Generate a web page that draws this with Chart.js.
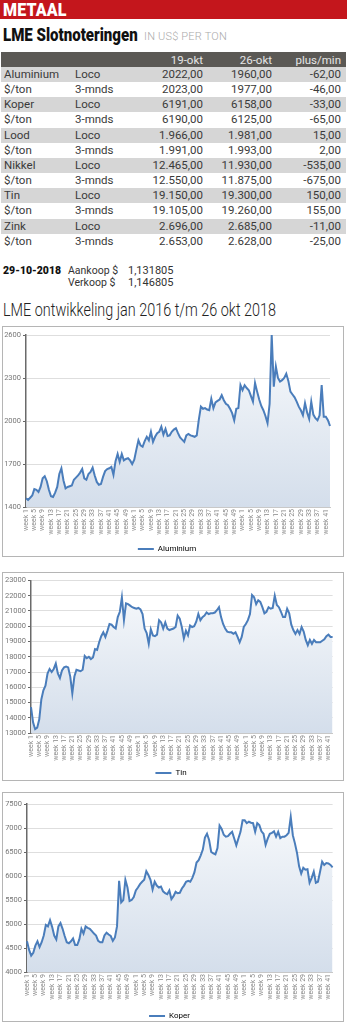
<!DOCTYPE html>
<html>
<head>
<meta charset="utf-8">
<script src="https://cdn.jsdelivr.net/npm/chart.js@4.4.1/dist/chart.umd.min.js"></script>
<style>
  html, body { margin: 0; padding: 0; }
  body { width: 347px; height: 1024px; position: relative; overflow: hidden; background: #fff;
         font-family: Roboto, "Open Sans", sans-serif; color: #3a3a3a; }
  .abs { position: absolute; }
  #kop { left: 0; top: 0; width: 347px; height: 19px; background: #c4161c; }
  #kop span { position: absolute; left: 3px; top: 0px; color: #fff; font-weight: 900; font-size: 19px;
              line-height: 19px; letter-spacing: 0.2px; transform-origin: left center; transform: scaleX(0.84); }
  #titel { left: 3px; top: 26px; white-space: nowrap; line-height: 18px; }
  #titel b { font-size: 17.5px; font-weight: 900; color: #111; display: inline-block; transform-origin: left center; transform: scaleX(0.86); }
  #titel span { font-size: 11px; color: #aaa; font-weight: 300; position: absolute; left: 141px; top: 2px; letter-spacing: 0.2px; }
  #tabel { left: 1px; top: 52px; width: 345px; }
  .rij { position: relative; height: 15.17px; font-size: 11.5px; line-height: 15.17px; white-space: nowrap; }
  .rij.kop { height: 15px; line-height: 16px; background: #5b5955; color: #e6e6e6; }
  .rij.grijs { background: #d6d6d6; }
  .rij div { position: absolute; top: 0; }
  .c1 { left: 3px; } .c2 { left: 74px; }
  .c3 { right: 143px; } .c4 { right: 74px; } .c5 { right: 5px; }
  #koers { left: 3px; top: 265px; font-size: 10.5px; line-height: 12px; white-space: nowrap; color: #333; }
  #koers b { position: absolute; left: 0; top: 0; font-weight: 900; color: #111; }
  #koers .l { position: absolute; left: 65px; }
  #koers .w { position: absolute; left: 125px; font-size: 11px; }
  #sub { left: 3px; top: 299px; font-size: 18px; font-weight: 300; color: #222; white-space: nowrap;
         transform-origin: left top; transform: scaleX(0.8); line-height: 22px; }
  .kader { position: absolute; left: 2px; width: 340px; border: 1.5px solid #b5b5b5; background: #fff; }
  canvas { position: absolute; }
</style>
</head>
<body>
<div id="kop" class="abs"><span>METAAL</span></div>
<div id="titel" class="abs"><b>LME Slotnoteringen</b><span>IN US$ PER TON</span></div>
<div id="tabel" class="abs"></div>
<div id="koers" class="abs"></div>
<div id="sub" class="abs">LME ontwikkeling jan 2016 t/m 26 okt 2018</div>

<div class="kader" style="top:326px;height:229px;"></div>
<div class="kader" style="top:572px;height:207px;"></div>
<div class="kader" style="top:792px;height:228px;"></div>
<canvas id="alu" width="339" height="235" style="left:4px;top:328px;"></canvas>
<canvas id="tin" width="339" height="213" style="left:4px;top:574px;"></canvas>
<canvas id="kop3" width="339" height="236" style="left:4px;top:794px;"></canvas>

<script>
// Closing prices table (US$ per ton)
const tableHeader = ['', '', '19-okt', '26-okt', 'plus/min'];
const rowNames = ['Aluminium', '$/ton', 'Koper', '$/ton', 'Lood', '$/ton', 'Nikkel', '$/ton', 'Tin', '$/ton', 'Zink', '$/ton'];
const rowTerms = ['Loco', '3-mnds', 'Loco', '3-mnds', 'Loco', '3-mnds', 'Loco', '3-mnds', 'Loco', '3-mnds', 'Loco', '3-mnds'];
const price19okt = ['2022,00', '2023,00', '6191,00', '6190,00', '1.966,00', '1.991,00', '12.465,00', '12.550,00', '19.150,00', '19.105,00', '2.696,00', '2.653,00'];
const price26okt = ['1960,00', '1977,00', '6158,00', '6125,00', '1.981,00', '1.993,00', '11.930,00', '11.875,00', '19.300,00', '19.260,00', '2.685,00', '2.628,00'];
const plusMin = ['-62,00', '-46,00', '-33,00', '-65,00', '15,00', '2,00', '-535,00', '-675,00', '150,00', '155,00', '-11,00', '-25,00'];

// Dollar rate
const rateDate = '29-10-2018';
const rateLabels = ['Aankoop $', 'Verkoop $'];
const rateValues = ['1,131805', '1,146805'];

// Weekly categories: 2016 (52 weeks), 2017 (52 weeks), 2018 up to week 43
const weeksPerYear = [52, 52, 43];
const weekLabels = [];
weeksPerYear.forEach(n => { for (let w = 1; w <= n; w++) weekLabels.push('week ' + w); });

// Weekly LME prices, US$/ton
const aluminium = [
  1460, 1450, 1465, 1480, 1525, 1520, 1505, 1540, 1600, 1615, 1580, 1520, 1475, 1470, 1500, 1540,
  1630, 1670, 1585, 1530, 1540, 1545, 1550, 1590, 1605, 1620, 1640, 1665, 1600, 1590, 1630, 1645,
  1675, 1620, 1575, 1555, 1560, 1610, 1650, 1665, 1670, 1680, 1625, 1720, 1770, 1715, 1770, 1725,
  1735, 1740, 1725, 1700, 1730, 1800, 1865, 1830, 1820, 1860, 1890, 1865, 1925, 1855, 1890, 1915,
  1925, 1960, 1905, 1945, 1895, 1900, 1925, 1940, 1950, 1915, 1885, 1870, 1855, 1900, 1910, 1900,
  1895, 1890, 1900, 2010, 2100, 2085, 2090, 2080, 2075, 2155, 2090, 2130, 2140, 2150, 2180, 2145,
  2120, 2110, 2085, 2055, 2005, 2085, 2090, 2250, 2215, 2250, 2230, 2215, 2175, 2135, 2265, 2205,
  2150, 2105, 2075, 2035, 1985, 2120, 2600, 2240, 2380, 2300, 2275, 2285, 2300, 2330, 2280, 2205,
  2185, 2165, 2135, 2100, 2075, 2040, 2125, 2060, 2015, 2135, 2045, 2020, 2005, 2040, 2250, 2030,
  2030, 2005, 1965
];
const tin = [
  14700, 13700, 13250, 13350, 13900, 15200, 15800, 16100, 16900, 17200, 17000, 17200, 17550, 16900, 16600, 17100,
  17300, 17350, 17300, 16700, 15600, 16700, 17150, 17100, 17050, 17150, 18050, 17900, 18000, 17850, 17950, 18500,
  18450, 18950, 19350, 19600, 19300, 19700, 20150, 20100, 19950, 19850, 20600, 20950, 21900, 20400, 21500, 21450,
  21350, 21250, 21200, 21150, 21200, 21100, 20800, 19850, 19550, 18850, 19800, 19400, 19350, 19450, 20400, 20250,
  19850, 20250, 19850, 19750, 19800, 19850, 19950, 20700, 20500, 19950, 19200, 19700, 19400, 20050, 19950, 20000,
  20300, 20800, 20400, 20600, 20700, 20900, 20800, 20850, 20850, 20900, 21050, 21250, 20600, 20150, 19850, 19650,
  19600, 19600, 19500, 19600, 19300, 18950, 19300, 19950, 20150, 20400, 20800, 22050, 21900, 21450, 21700, 21600,
  21250, 20850, 20950, 21250, 21150, 21200, 22000, 21400, 21250, 20950, 20600, 20600, 21150, 20850, 20100, 19750,
  19500, 19750, 19500, 19950, 19650, 19100, 18750, 19100, 18850, 19100, 18950, 18950, 18950, 19050, 19150, 19350,
  19450, 19300, 19300
];
const koper = [
  4640, 4460, 4340, 4400, 4550, 4640, 4520, 4620, 4760, 4980, 4950, 5080, 4940, 4760, 4680, 4950,
  5020, 4900, 4750, 4620, 4600, 4640, 4700, 4560, 4560, 4680, 4900, 4800, 4950, 4920, 4900, 4850,
  4800, 4760, 4650, 4620, 4620, 4760, 4820, 4780, 4750, 4650, 4720, 4950, 5900, 5450, 5500, 5920,
  5760, 5480, 5500, 5560, 5700, 5760, 5830, 5880, 5920, 6100, 6020, 5920, 5720, 5880, 5800, 5760,
  5780, 5680, 5640, 5620, 5700, 5520, 5580, 5670, 5640, 5650, 5740, 5800, 5880, 5900, 5880, 5960,
  6080, 6280, 6330, 6430, 6550, 6800, 6880, 6750, 6500, 6470, 6450, 6580, 7050, 6980, 6860, 6820,
  6830, 6880, 6920, 6780, 6640, 6780, 6920, 7160, 7160, 7100, 7130, 7110, 7100, 6920, 7100, 7060,
  6930, 6880, 6650, 6780, 6880, 6900, 6930, 6820, 6920, 6790, 6820, 6820, 6850, 6900, 7230, 6850,
  6680, 6480, 6200, 6050, 6170, 6130, 6140, 5860, 5960, 6090, 5860, 5880, 6090, 6300, 6230, 6270,
  6260, 6230, 6180
];

// ---- table ----
const tabel = document.getElementById('tabel');
function addRow(cells, cls) {
  const r = document.createElement('div');
  r.className = 'rij ' + cls;
  cells.forEach((t, i) => {
    const d = document.createElement('div');
    d.className = 'c' + (i + 1);
    d.textContent = t;
    r.appendChild(d);
  });
  tabel.appendChild(r);
}
addRow(tableHeader, 'kop');
rowNames.forEach((n, i) => addRow([n, rowTerms[i], price19okt[i], price26okt[i], plusMin[i]], i % 2 === 0 ? 'grijs' : ''));

const koers = document.getElementById('koers');
koers.innerHTML = '<b>' + rateDate + '</b>' +
  rateLabels.map((l, i) => '<div class="l" style="top:' + (i * 12) + 'px">' + l + '</div>' +
    '<div class="w" style="top:' + (i * 12) + 'px">' + rateValues[i] + '</div>').join('');

// ---- charts ----
const LINE = '#4a7dbb';
function areaFill(context) {
  const chart = context.chart;
  const area = chart.chartArea;
  if (!area) return 'rgba(214,224,236,0.8)';
  const g = chart.ctx.createLinearGradient(0, area.top, 0, area.bottom);
  g.addColorStop(0, 'rgba(248,250,252,1)');
  g.addColorStop(1, 'rgba(212,222,235,1)');
  return g;
}

function lineChart(id, name, values, yMin, yMax, step, g) {
  return new Chart(document.getElementById(id), {
    type: 'line',
    data: {
      labels: weekLabels,
      datasets: [{
        label: name,
        data: values,
        borderColor: LINE,
        borderWidth: 2,
        backgroundColor: areaFill,
        fill: 'start',
        pointRadius: 0,
        tension: 0
      }]
    },
    options: {
      responsive: false,
      devicePixelRatio: 1,
      animation: false,
      layout: { padding: { top: g.top, right: g.right, left: 0, bottom: 0 } },
      plugins: {
        tooltip: { enabled: false },
        legend: {
          position: 'bottom',
          labels: {
            boxWidth: 16, boxHeight: 2, padding: 8,
            color: '#777', font: { size: 8, family: 'Roboto' },
            generateLabels: () => [{
              text: name, fillStyle: LINE, strokeStyle: LINE, lineWidth: 0, datasetIndex: 0
            }]
          }
        }
      },
      scales: {
        x: {
          ticks: {
            autoSkip: false, maxRotation: 90, minRotation: 90, padding: 2,
            color: '#888', font: { size: 7, family: 'Roboto' },
            callback: (v, i) => (i % 4 === 0 ? weekLabels[i] : '')
          },
          grid: { display: false, drawTicks: false },
          border: { display: true, color: '#c8c8c8', width: 1 },
          afterFit: (s) => { s.height = g.xh; }
        },
        y: {
          min: yMin, max: yMax,
          ticks: { stepSize: step, color: '#777', padding: 2, font: { size: 7.5, family: 'Roboto' },
                   callback: (v) => String(v) },
          grid: { color: '#dedede', lineWidth: 1, tickLength: 3, tickColor: '#666' },
          border: { display: true, color: '#6a6a6a', width: 1.5 },
          afterFit: (s) => { s.width = g.yw; }
        }
      }
    }
  });
}

lineChart('alu', 'Aluminium', aluminium, 1400, 2600, 300, { top: 7, right: 13, yw: 22, xh: 30 });
lineChart('tin', 'Tin', tin, 13000, 23000, 1000, { top: 6, right: 5, yw: 27, xh: 28 });
lineChart('kop3', 'Koper', koper, 4000, 7500, 500, { top: 10, right: 8, yw: 23, xh: 32 });
</script>
</body>
</html>
